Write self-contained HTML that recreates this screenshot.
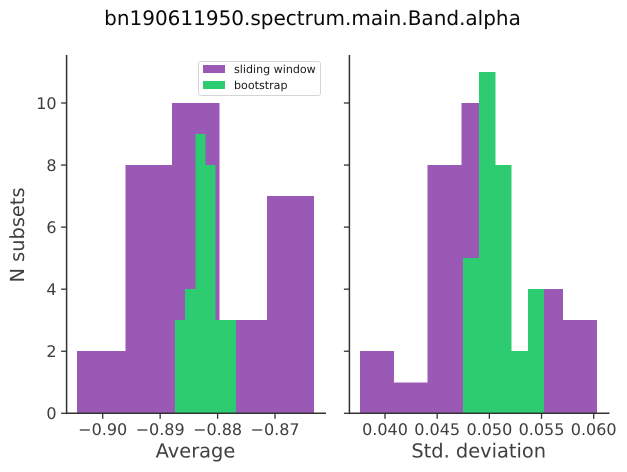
<!DOCTYPE html>
<html>
<head>
<meta charset="utf-8">
<style>
html,body{margin:0;padding:0;background:#fff;width:627px;height:472px;overflow:hidden}
svg{display:block;font-family:"DejaVu Sans","Liberation Sans",sans-serif;text-rendering:geometricPrecision}
</style>
</head>
<body>
<svg id="chart" xmlns="http://www.w3.org/2000/svg" width="627" height="472" viewBox="0 0 627 472">
<rect x="0" y="0" width="627" height="472" fill="#fff"/>
<text x="312.5" y="25" font-size="20" text-anchor="middle" fill="#0a0a0a">bn190611950.spectrum.main.Band.alpha</text>
<g id="left-panel"></g>
<g id="right-panel"></g>
<text transform="translate(24,235) rotate(-90)" font-size="19.4" text-anchor="middle" fill="#3f3f3f">N subsets</text>
<text x="195.5" y="457.3" font-size="19.4" text-anchor="middle" fill="#3f3f3f">Average</text>
<text x="478.7" y="457.3" font-size="19.4" text-anchor="middle" fill="#3f3f3f">Std. deviation</text>
<g>
<rect x="198.5" y="61.5" width="122" height="34" rx="2.5" fill="#fff" fill-opacity="0.85" stroke="#d5d5d5" stroke-width="1"/>
<rect x="203" y="65" width="22" height="8" fill="#9b59b6"/>
<text x="234" y="73" font-size="11.1" fill="#1a1a1a">sliding window</text>
<rect x="203" y="81" width="22" height="8" fill="#2ecc71"/>
<text x="234" y="89" font-size="11.1" fill="#1a1a1a">bootstrap</text>
</g>
</svg>
<script>
// Average panel
const avgSlidingEdges = [-0.90448, -0.89605, -0.88796, -0.87970, -0.87144, -0.86318];
const avgSlidingCounts = [2, 8, 10, 3, 7];
const avgBootstrapEdges = [-0.88742, -0.88566, -0.88389, -0.88213, -0.88037, -0.87861, -0.87684];
const avgBootstrapCounts = [3, 4, 9, 8, 3, 3];
const avgTicks = [-0.90, -0.89, -0.88, -0.87];
const avgTickLabels = ['\u22120.90', '\u22120.89', '\u22120.88', '\u22120.87'];
// Std. deviation panel
const stdSlidingEdges = [0.03760, 0.04085, 0.04409, 0.04733, 0.05058, 0.05382, 0.05707, 0.06031];
const stdSlidingCounts = [2, 1, 8, 10, 2, 4, 3];
const stdBootstrapEdges = [0.04747, 0.04902, 0.05057, 0.05213, 0.05368, 0.05523];
const stdBootstrapCounts = [5, 11, 8, 2, 4];
const stdTicks = [0.040, 0.045, 0.050, 0.055, 0.060];
const stdTickLabels = ['0.040', '0.045', '0.050', '0.055', '0.060'];
// Shared count axis
const countTicks = [0, 2, 4, 6, 8, 10];
const countTickLabels = ['0', '2', '4', '6', '8', '10'];

const SVG_NS = 'http://www.w3.org/2000/svg';
const PURPLE = '#9b59b6';
const GREEN = '#2ecc71';
const AXIS = '#333333';
const TEXT = '#3f3f3f';
const yBase = 413.3;
const yTop = 55;

function yScale(c) { return yBase - c * 31.03; }
function xAvg(v) { return 102.7 + (v + 0.90) * 5745; }
function xStd(v) { return 385 + (v - 0.040) * 10435; }

function make(parent, tag, attrs) {
  const el = document.createElementNS(SVG_NS, tag);
  for (const k in attrs) el.setAttribute(k, attrs[k]);
  parent.appendChild(el);
  return el;
}

function drawBars(parent, edges, counts, xScale, color, prefix) {
  counts.forEach(function (c, i) {
    const x0 = xScale(edges[i]);
    const x1 = xScale(edges[i + 1]);
    const r = make(parent, 'rect', {
      x: x0, y: yScale(c), width: x1 - x0, height: yBase - yScale(c), fill: color,
      'shape-rendering': 'crispEdges'
    });
    
    
  });
}

function drawPanel(parent, cfg) {
  drawBars(parent, cfg.slidingEdges, cfg.slidingCounts, cfg.xScale, PURPLE, 'sliding-window');
  drawBars(parent, cfg.bootstrapEdges, cfg.bootstrapCounts, cfg.xScale, GREEN, 'bootstrap');

  const ySpine = make(parent, 'line', {
    x1: cfg.left, x2: cfg.left, y1: yTop, y2: yBase + 0.8, stroke: AXIS, 'stroke-width': 1.5
  });
  
  

  const xSpine = make(parent, 'line', {
    x1: cfg.left - 0.7, x2: cfg.right, y1: yBase, y2: yBase, stroke: AXIS, 'stroke-width': 1.5
  });
  
  

  countTicks.forEach(function (c, i) {
    const y = yScale(c);
    const t = make(parent, 'line', {
      x1: cfg.left - 5.5, x2: cfg.left, y1: y, y2: y, stroke: AXIS, 'stroke-width': 1.3
    });
    
    
    if (cfg.showYLabels) {
      const l = make(parent, 'text', {
        x: cfg.left - 10, y: y + 5.8, 'font-size': 16, 'text-anchor': 'end', fill: TEXT
      });
      
      
      l.textContent = countTickLabels[i];
    }
  });

  cfg.ticks.forEach(function (v, i) {
    const x = cfg.xScale(v);
    const t = make(parent, 'line', {
      x1: x, x2: x, y1: yBase, y2: yBase + 5.5, stroke: AXIS, 'stroke-width': 1.3
    });
    
    
    const l = make(parent, 'text', {
      x: x, y: 435, 'font-size': 16, 'text-anchor': 'middle', fill: TEXT
    });
    
    
    l.textContent = cfg.tickLabels[i];
  });
}

drawPanel(document.getElementById('left-panel'), {
  slidingEdges: avgSlidingEdges, slidingCounts: avgSlidingCounts,
  bootstrapEdges: avgBootstrapEdges, bootstrapCounts: avgBootstrapCounts,
  xScale: xAvg, ticks: avgTicks, tickLabels: avgTickLabels,
  left: 66.6, right: 326, showYLabels: true
});
drawPanel(document.getElementById('right-panel'), {
  slidingEdges: stdSlidingEdges, slidingCounts: stdSlidingCounts,
  bootstrapEdges: stdBootstrapEdges, bootstrapCounts: stdBootstrapCounts,
  xScale: xStd, ticks: stdTicks, tickLabels: stdTickLabels,
  left: 349.4, right: 609.5, showYLabels: false
});
</script>
</body>
</html>
